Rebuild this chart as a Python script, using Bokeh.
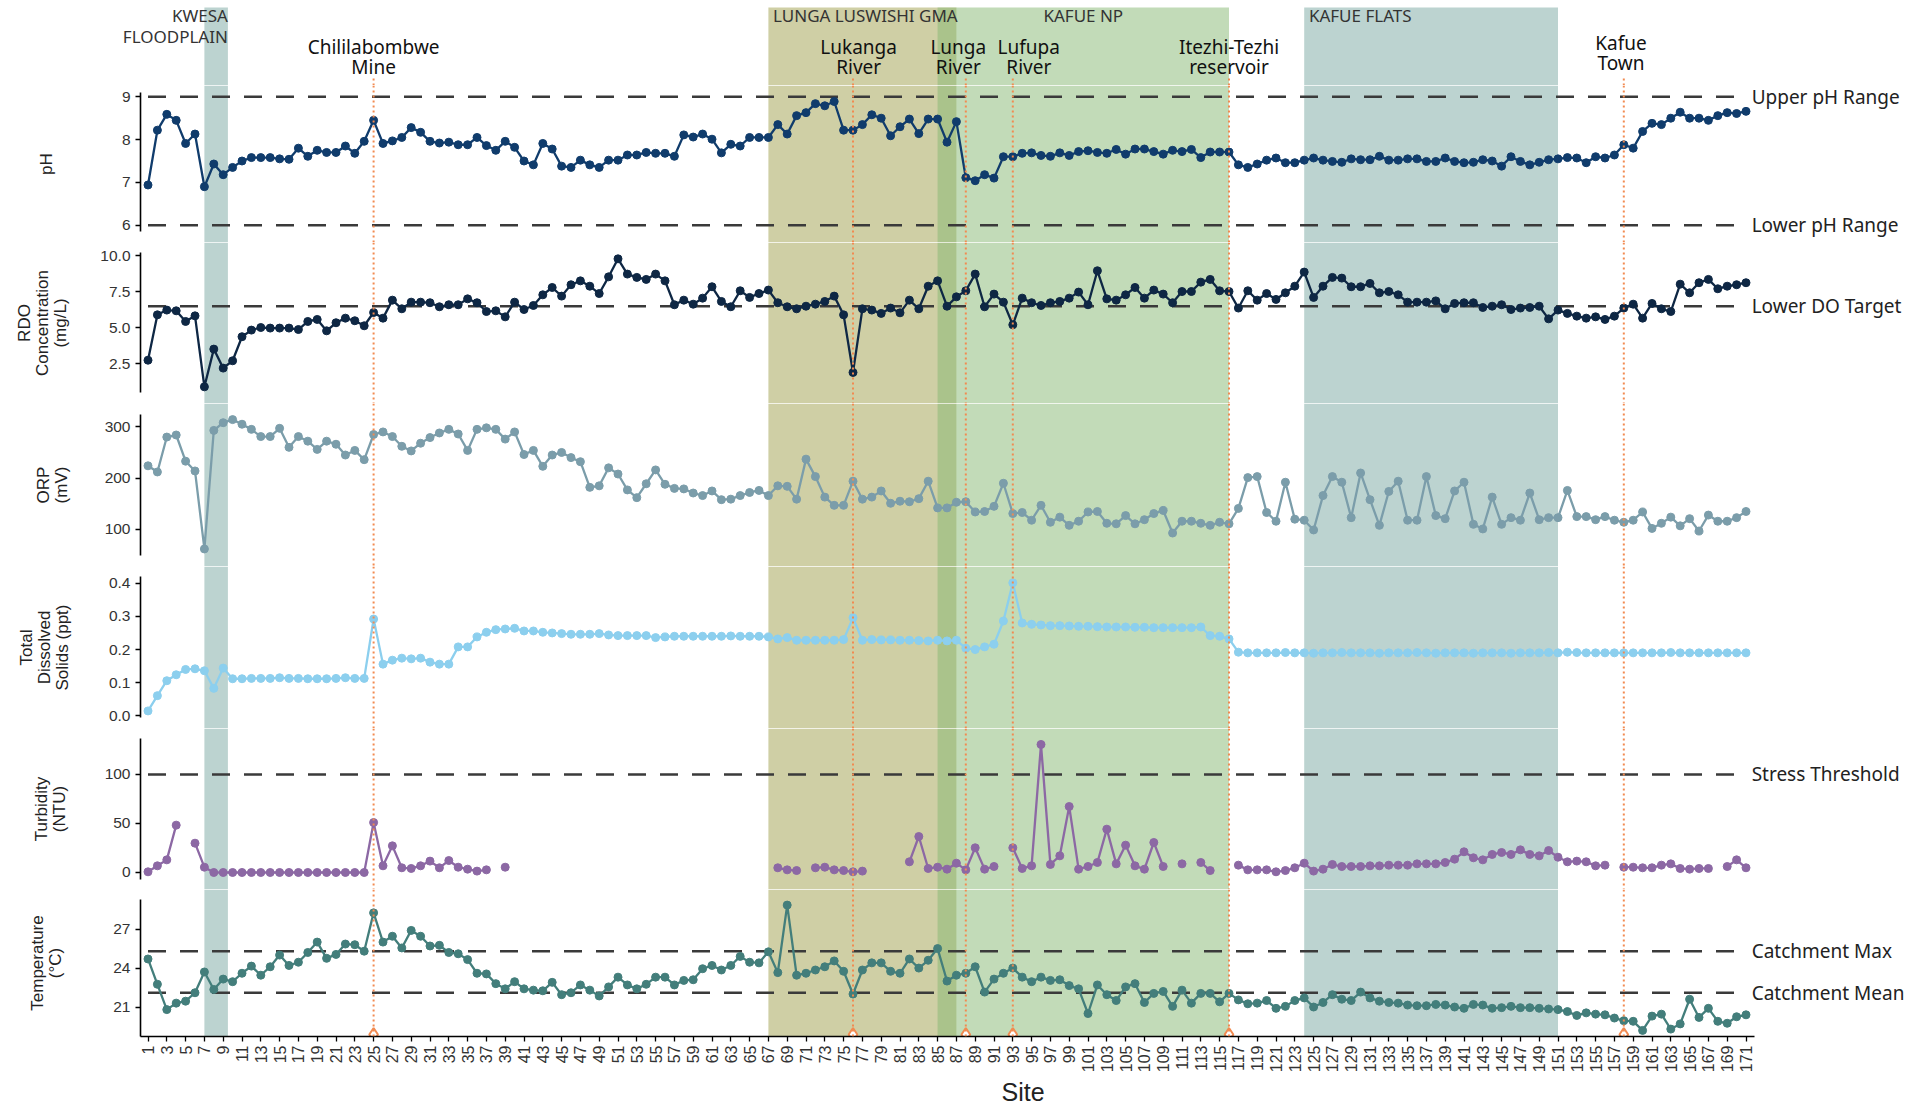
import math
from bokeh.plotting import figure
from bokeh.layouts import column
from bokeh.models import Range1d, BoxAnnotation, Span, FixedTicker, NumeralTickFormatter
from bokeh.embed import file_html
from bokeh.resources import INLINE
from bokeh.core.properties import value

NaN = float("nan")

# ---------------- data ----------------
site = list(range(1, 172))

ph = [6.94, 8.22, 8.59, 8.45, 7.91, 8.13, 6.90, 7.43, 7.18, 7.35,
      7.50, 7.58, 7.58, 7.58, 7.55, 7.54, 7.80, 7.61, 7.75, 7.70,
      7.70, 7.85, 7.68, 7.96, 8.45, 7.91, 7.97, 8.05, 8.28, 8.17,
      7.96, 7.92, 7.94, 7.88, 7.88, 8.05, 7.86, 7.75, 7.96, 7.82,
      7.50, 7.41, 7.91, 7.78, 7.38, 7.35, 7.52, 7.41, 7.35, 7.52,
      7.52, 7.64, 7.64, 7.70, 7.68, 7.68, 7.61, 8.11, 8.06, 8.13,
      8.01, 7.69, 7.89, 7.85, 8.05, 8.05, 8.05, 8.35, 8.13, 8.56,
      8.63, 8.84, 8.79, 8.89, 8.22, 8.22, 8.35, 8.58, 8.50, 8.09,
      8.30, 8.48, 8.14, 8.48, 8.48, 7.94, 8.42, 7.11, 7.04, 7.18,
      7.10, 7.60, 7.60, 7.68, 7.69, 7.63, 7.61, 7.69, 7.63, 7.72,
      7.74, 7.70, 7.68, 7.77, 7.66, 7.78, 7.78, 7.72, 7.66, 7.75,
      7.72, 7.77, 7.58, 7.71, 7.71, 7.71, 7.41, 7.35, 7.43, 7.52,
      7.57, 7.46, 7.46, 7.52, 7.57, 7.52, 7.49, 7.47, 7.55, 7.53,
      7.53, 7.61, 7.52, 7.52, 7.55, 7.55, 7.49, 7.49, 7.57, 7.49,
      7.46, 7.47, 7.53, 7.50, 7.38, 7.60, 7.49, 7.41, 7.47, 7.53,
      7.55, 7.58, 7.57, 7.46, 7.60, 7.57, 7.64, 7.88, 7.80, 8.19,
      8.38, 8.35, 8.50, 8.64, 8.50, 8.50, 8.45, 8.56, 8.63, 8.61,
      8.66]

rdo = [2.75, 5.90, 6.23, 6.18, 5.44, 5.83, 0.90, 3.52, 2.20, 2.71,
       4.38, 4.84, 5.02, 4.98, 4.98, 4.98, 4.88, 5.44, 5.58, 4.79,
       5.35, 5.67, 5.49, 5.14, 6.06, 5.67, 6.92, 6.32, 6.78, 6.78,
       6.74, 6.46, 6.60, 6.60, 7.01, 6.74, 6.13, 6.18, 5.76, 6.78,
       6.27, 6.55, 7.29, 7.80, 7.20, 7.99, 8.26, 7.89, 7.38, 8.54,
       9.79, 8.73, 8.50, 8.36, 8.73, 8.26, 6.60, 6.92, 6.64, 7.06,
       7.85, 6.83, 6.46, 7.57, 7.11, 7.38, 7.62, 6.74, 6.46, 6.32,
       6.50, 6.64, 6.83, 7.20, 5.90, 1.90, 6.32, 6.23, 6.00, 6.37,
       6.04, 6.92, 6.32, 7.89, 8.26, 6.50, 7.15, 7.57, 8.73, 6.46,
       7.34, 6.78, 5.21, 7.06, 6.74, 6.55, 6.74, 6.83, 7.06, 7.48,
       6.60, 8.96, 7.01, 6.92, 7.29, 7.80, 7.06, 7.62, 7.34, 6.74,
       7.52, 7.52, 8.17, 8.36, 7.57, 7.52, 6.37, 7.57, 6.92, 7.38,
       6.97, 7.43, 7.89, 8.87, 7.11, 7.89, 8.50, 8.45, 7.85, 7.85,
       8.08, 7.43, 7.52, 7.29, 6.78, 6.78, 6.78, 6.87, 6.32, 6.69,
       6.74, 6.74, 6.41, 6.50, 6.60, 6.27, 6.37, 6.41, 6.50, 5.62,
       6.23, 6.00, 5.81, 5.67, 5.76, 5.58, 5.81, 6.37, 6.64, 5.67,
       6.69, 6.32, 6.13, 8.03, 7.43, 8.13, 8.36, 7.71, 7.89, 7.99,
       8.13]

orp = [224, 212, 280, 284, 233, 214, 62, 293, 308, 314,
       305, 295, 281, 281, 297, 260, 281, 272, 256, 272,
       266, 245, 254, 236, 285, 290, 281, 262, 253, 268,
       279, 288, 295, 286, 254, 295, 298, 295, 276, 290,
       246, 254, 223, 245, 250, 240, 232, 182, 185, 220,
       208, 177, 162, 189, 216, 188, 180, 179, 171, 166,
       175, 158, 159, 166, 172, 176, 166, 185, 184, 159,
       237, 203, 163, 147, 147, 194, 159, 163, 175, 151,
       155, 154, 160, 194, 142, 142, 153, 154, 134, 135,
       145, 190, 131, 133, 118, 147, 114, 124, 108, 116,
       134, 135, 112, 111, 127, 111, 119, 131, 137, 93,
       116, 116, 112, 108, 114, 111, 141, 201, 203, 133,
       116, 192, 120, 118, 99, 166, 203, 192, 123, 210,
       158, 108, 174, 194, 118, 118, 203, 127, 121, 175,
       192, 110, 101, 163, 110, 123, 118, 171, 119, 123,
       123, 176, 125, 125, 119, 125, 118, 114, 118, 134,
       102, 112, 124, 107, 121, 97, 128, 116, 116, 123,
       135]

tds = [0.015, 0.061, 0.106, 0.124, 0.140, 0.142, 0.136, 0.083, 0.144, 0.112,
       0.112, 0.113, 0.113, 0.113, 0.115, 0.113, 0.113, 0.112, 0.112, 0.112,
       0.113, 0.115, 0.113, 0.113, 0.292, 0.156, 0.168, 0.174, 0.172, 0.174,
       0.162, 0.156, 0.156, 0.208, 0.208, 0.238, 0.252, 0.260, 0.262, 0.264,
       0.256, 0.256, 0.252, 0.250, 0.248, 0.246, 0.246, 0.246, 0.248, 0.244,
       0.242, 0.242, 0.242, 0.242, 0.236, 0.238, 0.240, 0.240, 0.240, 0.240,
       0.240, 0.240, 0.241, 0.240, 0.240, 0.240, 0.238, 0.232, 0.236, 0.228,
       0.228, 0.228, 0.228, 0.228, 0.230, 0.296, 0.228, 0.230, 0.229, 0.229,
       0.228, 0.228, 0.227, 0.226, 0.228, 0.226, 0.228, 0.204, 0.200, 0.208,
       0.216, 0.286, 0.401, 0.280, 0.276, 0.274, 0.272, 0.272, 0.271, 0.270,
       0.270, 0.269, 0.268, 0.268, 0.268, 0.267, 0.267, 0.266, 0.266, 0.266,
       0.266, 0.266, 0.268, 0.242, 0.240, 0.232, 0.192, 0.190, 0.190, 0.190,
       0.190, 0.191, 0.190, 0.190, 0.189, 0.190, 0.190, 0.191, 0.190, 0.190,
       0.190, 0.189, 0.190, 0.190, 0.190, 0.191, 0.190, 0.189, 0.190, 0.190,
       0.190, 0.189, 0.190, 0.190, 0.190, 0.189, 0.190, 0.190, 0.190, 0.191,
       0.190, 0.192, 0.191, 0.190, 0.190, 0.190, 0.190, 0.190, 0.190, 0.190,
       0.190, 0.190, 0.191, 0.190, 0.190, 0.190, 0.190, 0.190, 0.190, 0.190,
       0.190]

turbidity = [0.7, 6.8, 12.9, 48.3, NaN, 29.9, 5.4, 0, 0, 0,
             0, 0, 0, 0, 0, 0, 0, 0, 0, 0,
             0, 0, 0, 0, 51.0, 6.8, 27.2, 4.8, 4.1, 6.8,
             11.6, 4.8, 12.2, 5.4, 3.4, 1.4, 2.7, NaN, 5.4, NaN,
             NaN, NaN, NaN, NaN, NaN, NaN, NaN, NaN, NaN, NaN,
             NaN, NaN, NaN, NaN, NaN, NaN, NaN, NaN, NaN, NaN,
             NaN, NaN, NaN, NaN, NaN, NaN, NaN, 4.8, 2.7, 2.0,
             NaN, 4.8, 5.4, 2.7, 2.0, 0.7, 1.4, NaN, NaN, NaN,
             NaN, 10.9, 36.7, 4.1, 5.4, 3.4, 9.5, 2.7, 25.2, 3.4,
             6.1, NaN, 25.2, 4.1, 6.8, 130.6, 8.2, 17.0, 67.3, 3.4,
             6.1, 10.2, 44.2, 8.8, 27.9, 6.8, 3.4, 30.6, 6.1, NaN,
             8.8, NaN, 10.2, 2.0, NaN, NaN, 7.5, 2.7, 2.7, 2.7,
             0.7, 2.0, 4.8, 9.5, 1.4, 3.4, 8.2, 6.1, 6.1, 6.1,
             6.8, 6.8, 7.5, 7.5, 7.5, 8.8, 8.8, 8.8, 10.2, 13.6,
             21.1, 15.0, 12.9, 18.4, 20.4, 18.4, 23.1, 18.4, 17.0, 22.4,
             15.6, 10.9, 11.6, 10.9, 6.8, 7.5, NaN, 5.4, 5.4, 4.8,
             4.8, 7.5, 8.8, 4.1, 3.4, 4.1, 4.1, NaN, 6.1, 12.9,
             4.8]

temperature = [24.7, 22.75, 20.8, 21.3, 21.45, 22.1, 23.7, 22.35, 23.15, 22.95,
               23.6, 24.15, 23.45, 24.1, 25.0, 24.2, 24.45, 25.2, 26.0, 24.75,
               25.05, 25.85, 25.8, 25.3, 28.25, 26.0, 26.45, 25.55, 26.9, 26.45,
               25.7, 25.75, 25.2, 25.1, 24.65, 23.6, 23.55, 22.8, 22.4, 22.95,
               22.4, 22.3, 22.25, 22.9, 21.95, 22.1, 22.7, 22.3, 21.85, 22.55,
               23.3, 22.7, 22.4, 22.75, 23.3, 23.3, 22.7, 23.05, 23.1, 23.95,
               24.2, 23.85, 24.2, 24.9, 24.45, 24.4, 25.25, 23.65, 28.85, 23.45,
               23.6, 23.85, 24.1, 24.55, 23.75, 22.0, 23.85, 24.4, 24.4, 23.75,
               23.6, 24.7, 24.0, 24.6, 25.5, 23.0, 23.45, 23.6, 24.1, 22.15,
               23.15, 23.6, 24.0, 23.3, 22.95, 23.3, 23.05, 23.1, 22.65, 22.4,
               20.5, 22.7, 21.95, 21.5, 22.55, 22.8, 21.35, 22.05, 22.2, 21.05,
               22.3, 21.3, 22.05, 22.05, 21.4, 22.05, 21.55, 21.25, 21.3, 21.5,
               20.9, 21.05, 21.5, 21.7, 21.0, 21.35, 21.95, 21.6, 21.5, 22.15,
               21.7, 21.45, 21.35, 21.3, 21.15, 21.1, 21.1, 21.2, 21.15, 21.0,
               20.9, 21.2, 21.15, 20.9, 20.95, 21.05, 20.95, 20.95, 20.9, 20.85,
               20.8, 20.65, 20.35, 20.55, 20.45, 20.4, 20.15, 19.95, 19.9, 19.2,
               20.3, 20.45, 19.3, 19.7, 21.6, 20.2, 20.9, 19.9, 19.75, 20.25,
               20.4]

region_names = ["KWESA\nFLOODPLAIN", "LUNGA LUSWISHI GMA", "KAFUE NP", "KAFUE FLATS"]
region_start = [7, 67, 85, 124]
region_end = [9.5, 87, 116, 151]

landmark_site = [25, 76, 88, 93, 116, 158]
landmark_name = ["Chililabombwe\nMine", "Lukanga\nRiver", "Lunga\nRiver",
                 "Lufupa\nRiver", "Itezhi-Tezhi\nreservoir", "Kafue\nTown"]

ph_limits = [9, 6]
ph_limit_names = ["Upper pH Range", "Lower pH Range"]
do_target = [6.5]
do_target_names = ["Lower DO Target"]
turbidity_threshold = [100]
turbidity_threshold_names = ["Stress Threshold"]
temperature_refs = [25.3, 22.1]
temperature_ref_names = ["Catchment Max", "Catchment Mean"]

ph_ticks = [6, 7, 8, 9]
rdo_ticks = [2.5, 5.0, 7.5, 10.0]
orp_ticks = [100, 200, 300]
tds_ticks = [0.0, 0.1, 0.2, 0.3, 0.4]
turbidity_ticks = [0, 50, 100]
temperature_ticks = [21, 24, 27]

# ---------------- styling ----------------
W = 1905
LEFT = 140
PX = 9.40                      # pixels per site
X0 = 0.202
X1 = X0 + (W - LEFT) / PX
X_RANGE = Range1d(X0, X1)
FONT = "Noto Sans"
AX_FONT = "Liberation Sans"
ORANGE = "#f28a50"
REF_COLOR = "#3a3a3a"
region_fill = ["#79a7a1", "#9f9f4b", "#85b771", "#79a7a1"]
HDR = 85


def base_fig(height, y_range, bottom=0, xaxis=False, yaxis=True, bands=True,
             x_range=None, left=LEFT):
    p = figure(width=W, height=height + bottom, x_range=x_range or X_RANGE, y_range=y_range,
               output_backend="svg", toolbar_location=None,
               x_axis_location="below" if xaxis else None,
               y_axis_location="left" if yaxis else None,
               min_border_left=left, min_border_right=0, min_border_top=0,
               min_border_bottom=bottom, outline_line_color=None,
               background_fill_color="white", border_fill_color="white")
    p.grid.visible = False
    if bands:
        for s, e, c in zip(region_start, region_end, region_fill):
            p.add_layout(BoxAnnotation(left=s, right=e, fill_color=c, fill_alpha=0.5,
                                       line_color=None, level="underlay"))
    return p


def add_landmark_spans(p):
    for s in landmark_site:
        p.add_layout(Span(location=s, dimension="height", line_color=ORANGE,
                          line_dash="2 3", line_width=2))


def style_y(p, label, ticks, bounds, standoff, fmt=None):
    ax = p.yaxis[0]
    ax.ticker = FixedTicker(ticks=ticks)
    ax.bounds = bounds
    if fmt:
        ax.formatter = NumeralTickFormatter(format=fmt)
    ax.axis_label = label
    ax.axis_label_text_font = AX_FONT
    ax.axis_label_text_font_size = "17px"
    ax.axis_label_text_line_height = 0.95
    ax.axis_label_text_font_style = "normal"
    ax.axis_label_text_color = "#222222"
    ax.axis_label_standoff = standoff
    ax.major_label_text_font = AX_FONT
    ax.major_label_text_font_size = "15.5px"
    ax.major_label_text_color = "#333333"
    ax.major_label_standoff = 5
    ax.axis_line_color = "black"
    ax.axis_line_width = 1.6
    ax.major_tick_line_color = "black"
    ax.major_tick_line_width = 1.3
    ax.major_tick_out = 5
    ax.major_tick_in = 0
    ax.minor_tick_line_color = None


def add_refs(p, values, names):
    for v, n in zip(values, names):
        p.segment(x0=[1.0], x1=[170.0], y0=[v], y1=[v], line_color=REF_COLOR,
                  line_width=2.6, line_dash="18 14")
        p.text(x=[171.6], y=[v], text=[n], text_align="left", text_baseline="middle",
               text_font=value(FONT), text_font_size="19px", text_color="#222222")


def add_series(p, vals, color):
    p.line(site, vals, line_color=color, line_width=2.3)
    p.scatter(site, vals, size=8, fill_color=color, line_color=color)


# ---------------- header (full-width frame, same site scale; y in pixels from top) ----
hdr = base_fig(HDR, Range1d(HDR, 0), yaxis=False, bands=False,
               x_range=Range1d(X0 - LEFT / PX, X1), left=0)
hdr.quad(left=region_start, right=region_end, top=[7] * 4, bottom=[HDR] * 4,
         fill_color=region_fill, fill_alpha=0.5, line_color=None)
for name, s, e in zip(region_names, region_start, region_end):
    lines = name.split("\n")
    if name.startswith("KWESA"):
        xs, align = e, "right"
    elif name == "KAFUE NP":
        xs, align = (s + e) / 2, "center"
    else:
        xs, align = s + 0.5, "left"
    for i, ln in enumerate(lines):
        hdr.text(x=[xs], y=[15 + 21 * i], text=[ln], text_align=align, text_baseline="middle",
                 text_font=value(FONT), text_font_size="17px", text_color="#333333")

nudge = [0, 0.6, -0.8, 1.7, 0, -0.3]
for s, name, dx in zip(landmark_site, landmark_name, nudge):
    y0 = 42 if name.startswith("Kafue") else 46
    for i, ln in enumerate(name.split("\n")):
        hdr.text(x=[s + dx], y=[y0 + 20.5 * i], text=[ln], text_align="center",
                 text_baseline="middle", text_font=value(FONT), text_font_size="19px",
                 text_color="#111111")
    hdr.segment(x0=[s], x1=[s], y0=[78], y1=[HDR], line_color=ORANGE, line_dash="2 3", line_width=2)

# ---------------- panels ----------------
p_ph = base_fig(157, Range1d(5.596, 9.264))
add_refs(p_ph, ph_limits, ph_limit_names)
add_series(p_ph, ph, "#103c6c")
style_y(p_ph, "pH", ph_ticks, (5.853, 9.10), 63)
add_landmark_spans(p_ph)

p_rdo = base_fig(161, Range1d(-0.257, 10.924))
add_refs(p_rdo, do_target, do_target_names)
add_series(p_rdo, rdo, "#0e2744")
style_y(p_rdo, "RDO\nConcentration\n(mg/L)", rdo_ticks, (0.507, 10.229), 27, "0.0")
add_landmark_spans(p_rdo)

p_orp = base_fig(163, Range1d(27.8, 345.4))
add_series(p_orp, orp, "#7b9daa")
style_y(p_orp, "ORP\n(mV)", orp_ticks, (49.9, 324.0), 31)
add_landmark_spans(p_orp)

p_tds = base_fig(162, Range1d(-0.038, 0.4503))
add_series(p_tds, tds, "#8ccfee")
style_y(p_tds, "Total\nDissolved\nSolids (ppt)", tds_ticks, (-0.0049, 0.419), 34, "0.0")
add_landmark_spans(p_tds)

p_tur = base_fig(161, Range1d(-17.35, 146.9))
add_refs(p_tur, turbidity_threshold, turbidity_threshold_names)
add_series(p_tur, turbidity, "#8c68a4")
style_y(p_tur, "Turbidity\n(NTU)", turbidity_ticks, (-6.8, 136.7), 33)
add_landmark_spans(p_tur)

p_tmp = base_fig(151, Range1d(18.73, 30.05), bottom=35, xaxis=True)
add_refs(p_tmp, temperature_refs, temperature_ref_names)
add_series(p_tmp, temperature, "#437e7b")
style_y(p_tmp, "Temperature\n(°C)", temperature_ticks, (18.73, 29.25), 45)
add_landmark_spans(p_tmp)
p_tmp.scatter(landmark_site, [18.88] * len(landmark_site), marker="diamond", size=13,
              fill_color="white", line_color=ORANGE, line_width=2)

xa = p_tmp.xaxis[0]
xa.ticker = FixedTicker(ticks=site[::2])
xa.bounds = (X0, 171.9)
xa.major_label_orientation = math.pi / 2
xa.major_label_text_font = AX_FONT
xa.major_label_text_font_size = "16px"
xa.major_label_text_color = "#333333"
xa.major_label_standoff = 4
xa.axis_line_color = "black"
xa.axis_line_width = 1.6
xa.major_tick_line_color = "black"
xa.major_tick_line_width = 1.3
xa.major_tick_out = 5
xa.major_tick_in = 0
xa.minor_tick_line_color = None

# x-axis title strip
SITE_H = 1105 - (HDR + 157 + 161 + 163 + 162 + 161 + 151 + 35)
p_site = base_fig(SITE_H, Range1d(SITE_H, 0), yaxis=False, bands=False)
p_site.text(x=[(X0 + X1) / 2], y=[SITE_H / 2 + 1], text=["Site"], text_align="center",
            text_baseline="middle", text_font=value(AX_FONT), text_font_size="25px",
            text_color="#222222")

panels = column(p_ph, p_rdo, p_orp, p_tds, p_tur, p_tmp, p_site, spacing=0)
layout = column(hdr, panels, spacing=0)

open("out.html", "w").write(file_html(layout, INLINE))
